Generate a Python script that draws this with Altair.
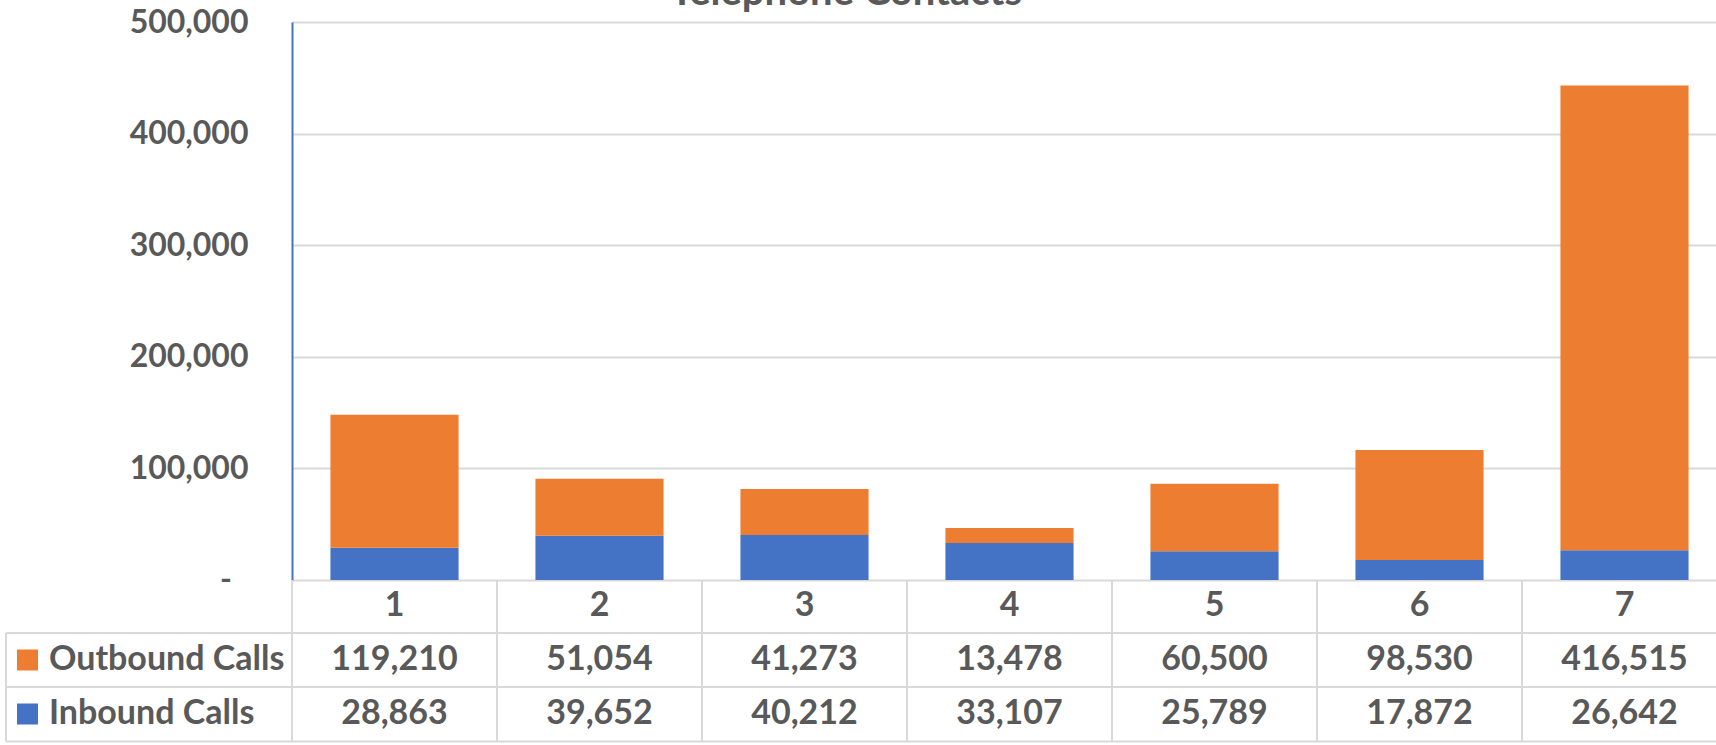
import altair as alt
import pandas as pd

# ---- data -------------------------------------------------------------
periods = ["1", "2", "3", "4", "5", "6", "7"]
outbound_calls = [119210, 51054, 41273, 13478, 60500, 98530, 416515]
inbound_calls = [28863, 39652, 40212, 33107, 25789, 17872, 26642]
series_names = ["Outbound Calls", "Inbound Calls"]
series_colors = ["#ED7D31", "#4472C4"]
y_ticks = [0, 100000, 200000, 300000, 400000, 500000]
chart_title = "Telephone Contacts"

rows = []
for p, o, i in zip(periods, outbound_calls, inbound_calls):
    rows.append({"Period": p, "Series": "Inbound Calls", "Calls": i, "StackOrder": 0})
    rows.append({"Period": p, "Series": "Outbound Calls", "Calls": o, "StackOrder": 1})
df = pd.DataFrame(rows)
period_df = pd.DataFrame({"Period": periods})
one = pd.DataFrame({"k": [0]})

# ---- style ------------------------------------------------------------
FONT = "Lato"
TEXT = "#595959"
GRID = "#D9D9D9"
W, H = 1424, 558          # plot area
BAND_RANGE = 1435         # seven equal table columns
ROW_TOP, ROW_MID, ROW_BOT = 611, 665, 719.5
LEFT_EDGE = -286
TABLE_FONT_SIZE = 34

x_scale = alt.Scale(domain=periods, range=[0, BAND_RANGE], paddingInner=0, paddingOuter=0)
color_scale = alt.Scale(domain=series_names, range=series_colors)

bars = alt.Chart(df).mark_bar(width=alt.RelativeBandSize(0.625)).encode(
    x=alt.X("Period:N", scale=x_scale, axis=None),
    y=alt.Y(
        "Calls:Q",
        stack="zero",
        scale=alt.Scale(domain=[0, 500000], nice=False),
        axis=alt.Axis(
            values=y_ticks,
            grid=True,
            gridColor=GRID,
            gridWidth=2,
            domainColor="#4472C4",
            domainWidth=2,
            ticks=False,
            labelFont=FONT,
            labelFontSize=32,
            labelFontWeight="bold",
            labelColor=TEXT,
            labelPadding=44,
            labelExpr="datum.value == 0 ? '' : format(datum.value, ',')",
            title=None,
        ),
    ),
    color=alt.Color("Series:N", scale=color_scale, legend=None),
    order=alt.Order("StackOrder:Q"),
)

zero_label = alt.Chart(one).mark_text(
    text="-", font=FONT, fontSize=32, fontWeight="bold", color=TEXT,
    align="right", baseline="middle",
).encode(x=alt.value(-60), y=alt.value(H))

title = alt.Chart(one).mark_text(
    text=chart_title, font=FONT, fontSize=40, fontWeight="bold", color=TEXT,
    align="center", baseline="alphabetic",
).encode(x=alt.value(554), y=alt.value(-17))

# ---- data table under the plot ---------------------------------------
def hline(y, x0=LEFT_EDGE):
    return alt.Chart(one).mark_rule(color=GRID, strokeWidth=2).encode(
        x=alt.value(x0), x2=alt.value(W), y=alt.value(y)
    )

table_lines = [hline(ROW_TOP), hline(ROW_MID), hline(ROW_BOT)]

left_edge = alt.Chart(one).mark_rule(color=GRID, strokeWidth=2).encode(
    x=alt.value(LEFT_EDGE), y=alt.value(ROW_TOP), y2=alt.value(ROW_BOT)
)

dividers = alt.Chart(period_df).mark_rule(color=GRID, strokeWidth=2).encode(
    x=alt.X("Period:N", scale=x_scale, axis=None, bandPosition=0),
    y=alt.value(H), y2=alt.value(ROW_BOT),
)

cell_text = dict(font=FONT, fontSize=TABLE_FONT_SIZE, fontWeight="bold", color=TEXT,
                 align="center", baseline="middle")

period_labels = alt.Chart(period_df).mark_text(**cell_text).encode(
    x=alt.X("Period:N", scale=x_scale, axis=None),
    y=alt.value(584),
    text="Period:N",
)

def value_row(series, y):
    return alt.Chart(df).transform_filter(
        alt.datum.Series == series
    ).mark_text(**cell_text).encode(
        x=alt.X("Period:N", scale=x_scale, axis=None),
        y=alt.value(y),
        text=alt.Text("Calls:Q", format=","),
    )

def legend_row(series, y):
    src = alt.Chart(pd.DataFrame({"Series": [series]}))
    key = src.mark_square(size=441, opacity=1, filled=True).encode(
        x=alt.value(-264.5), y=alt.value(y),
        color=alt.Color("Series:N", scale=color_scale, legend=None),
    )
    label = src.mark_text(font=FONT, fontSize=TABLE_FONT_SIZE, fontWeight="bold", color=TEXT,
                          align="left", baseline="middle").encode(
        x=alt.value(-243), y=alt.value(y), text="Series:N"
    )
    return key + label

chart = alt.layer(
    bars,
    zero_label,
    title,
    *table_lines,
    left_edge,
    dividers,
    period_labels,
    value_row("Outbound Calls", 638),
    value_row("Inbound Calls", 692),
    legend_row("Outbound Calls", 638),
    legend_row("Inbound Calls", 692),
).properties(
    width=W,
    height=H,
    autosize=alt.AutoSizeParams(type="none"),
    padding={"left": 292, "top": 22, "right": 0, "bottom": 165},
    background="white",
).configure_view(stroke=None)

chart.save("out.html", embed_options={"renderer": "svg", "actions": False})
